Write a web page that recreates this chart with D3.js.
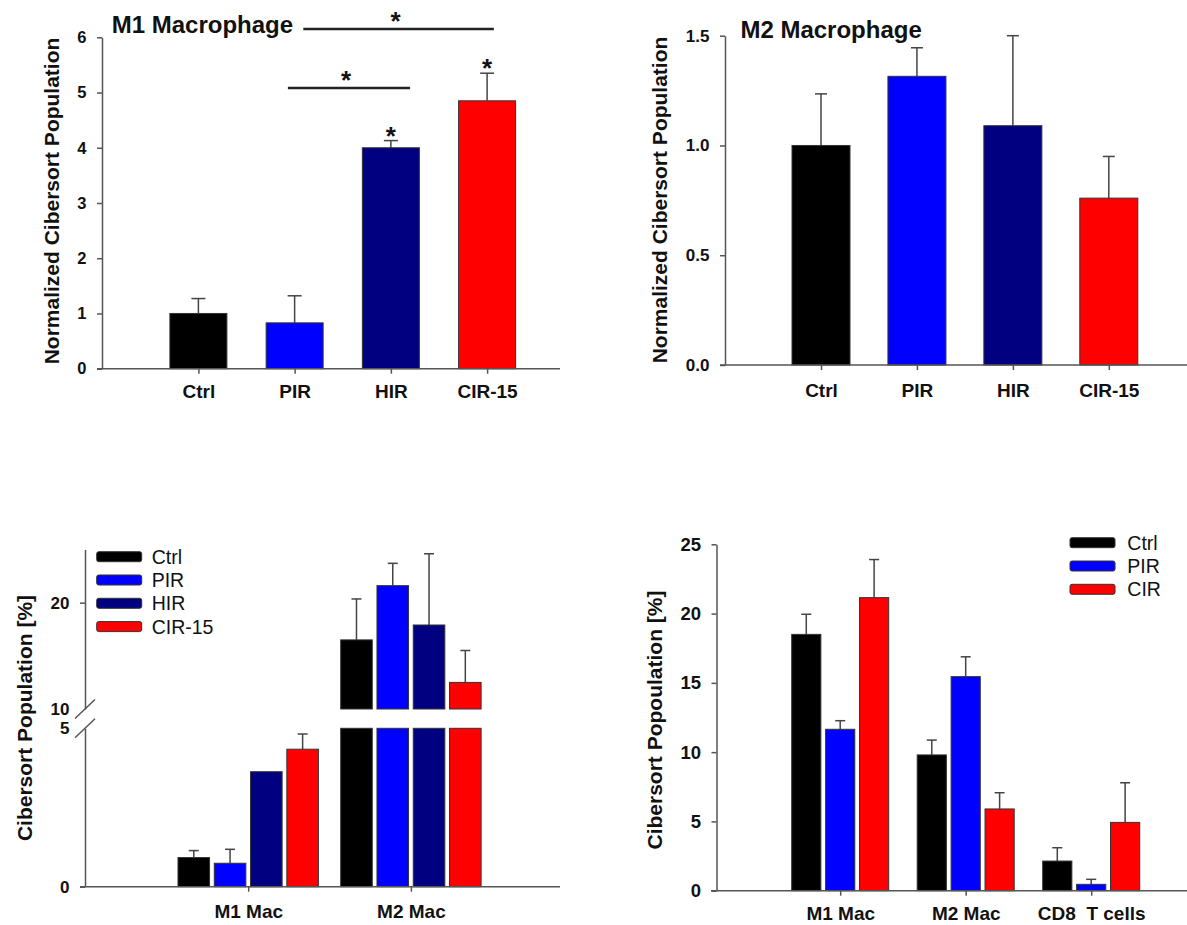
<!DOCTYPE html>
<html><head><meta charset="utf-8">
<script src="https://cdn.jsdelivr.net/npm/d3@7"></script>
<style>
body{margin:0;background:#fff;}
svg{display:block;font-family:"Liberation Sans",Arial,sans-serif;}
</style></head><body>
<svg id="chart" width="1187" height="925"></svg>
<script>
// ---------- DATA ----------
// Panel A : M1 Macrophage (normalized)
const groupsA = ["Ctrl", "PIR", "HIR", "CIR-15"];
const valuesA = [1.0, 0.83, 4.0, 4.85];
const errorsA = [0.27, 0.49, 0.13, 0.50];
const ticksA = [0, 1, 2, 3, 4, 5, 6];
const starsA = ["HIR", "CIR-15"];
// significance brackets: start / end (group index units) and level (y units)
const sigStartA = [1.09, 0.93];
const sigEndA = [3.07, 2.2];
const sigLevelA = [6.15, 5.08];

// Panel B : M2 Macrophage (normalized)
const groupsB = ["Ctrl", "PIR", "HIR", "CIR-15"];
const valuesB = [1.0, 1.315, 1.09, 0.76];
const errorsB = [0.235, 0.13, 0.41, 0.19];
const ticksB = [0.0, 0.5, 1.0, 1.5];

// Panel C : broken axis, M1 / M2 Mac
const categoriesC = ["M1 Mac", "M2 Mac"];
const seriesC = ["Ctrl", "PIR", "HIR", "CIR-15"];
const cCtrl = [0.92, 16.5];
const cPIR = [0.74, 21.6];
const cHIR = [3.63, 17.9];
const cCIR = [4.34, 12.5];
const cCtrlErr = [0.22, 3.85];
const cPIRErr = [0.44, 2.1];
const cHIRErr = [null, 6.7];
const cCIRErr = [0.48, 3.0];
const lowTicksC = [0, 5];
const highTicksC = [10, 20];

// Panel D : Ctrl / PIR / CIR
const categoriesD = ["M1 Mac", "M2 Mac", "CD8  T cells"];
const seriesD = ["Ctrl", "PIR", "CIR"];
const dCtrl = [18.5, 9.8, 2.14];
const dPIR = [11.65, 15.45, 0.46];
const dCIR = [21.15, 5.9, 4.93];
const dCtrlErr = [1.45, 1.07, 0.96];
const dPIRErr = [0.62, 1.43, 0.36];
const dCIRErr = [2.75, 1.17, 2.86];
const ticksD = [0, 5, 10, 15, 20, 25];

// ---------- STYLE ----------
const colors = {"Ctrl": "#000000", "PIR": "#0000ff", "HIR": "#000080", "CIR-15": "#ff0000", "CIR": "#ff0000"};
const axisColor = "#555";
const errColor = "#444";
const textColor = "#111";

const svg = d3.select("#chart");

function styleAxis(g, fs) {
  g.select(".domain").attr("stroke", axisColor).attr("stroke-width", 1.5);
  g.selectAll(".tick line").attr("stroke", axisColor).attr("stroke-width", 1.5);
  g.selectAll(".tick text").attr("fill", textColor).attr("font-weight", "bold")
    .attr("font-size", fs).attr("font-family", "Liberation Sans, Arial, sans-serif");
}

function yAxis(scale, ticks, x, fmt, fs) {
  const g = svg.append("g").attr("transform", `translate(${x},0)`)
    .call(d3.axisLeft(scale).tickValues(ticks).tickSize(5).tickSizeOuter(0).tickPadding(10.5).tickFormat(fmt));
  styleAxis(g, fs);
  return g;
}

function xAxis(scale, y0, x1, x2, fs, labelDy) {
  svg.append("line").attr("x1", x1).attr("x2", x2).attr("y1", y0).attr("y2", y0)
    .attr("stroke", axisColor).attr("stroke-width", 1.5);
  const g = svg.append("g").attr("transform", `translate(0,${y0})`)
    .call(d3.axisBottom(scale).tickSize(5).tickSizeOuter(0));
  g.select(".domain").remove();
  styleAxis(g, fs);
  g.selectAll(".tick text").attr("y", labelDy).attr("dy", 0).style("white-space", "pre");
}

function yLabel(text, cx, cy, fs) {
  svg.append("text").attr("transform", `translate(${cx},${cy}) rotate(-90)`)
    .attr("text-anchor", "middle").attr("dy", "0.35em")
    .attr("font-size", fs).attr("font-weight", "bold").attr("fill", textColor).text(text);
}

function errorBar(cx, yBase, yTop, cap) {
  svg.append("line").attr("x1", cx).attr("x2", cx).attr("y1", yBase).attr("y2", yTop)
    .attr("stroke", errColor).attr("stroke-width", 1.5);
  svg.append("line").attr("x1", cx - cap / 2).attr("x2", cx + cap / 2).attr("y1", yTop).attr("y2", yTop)
    .attr("stroke", errColor).attr("stroke-width", 1.5);
}

// ---------- PANEL A ----------
{
  const x = d3.scalePoint().domain(groupsA).range([198.4, 487.1]);
  const xi = d3.scaleLinear().domain([0, groupsA.length - 1]).range([198.4, 487.1]);
  const y = d3.scaleLinear().domain([0, 6]).range([368.7, 37.3]);
  const bw = 57;
  const data = groupsA.map((g, i) => ({g, v: valuesA[i], e: errorsA[i]}));
  data.forEach(d => errorBar(x(d.g), y(d.v), y(d.v + d.e), 14));
  svg.append("g").selectAll("rect").data(data).join("rect")
    .attr("x", d => x(d.g) - bw / 2).attr("width", bw)
    .attr("y", d => y(d.v)).attr("height", d => y(0) - y(d.v))
    .attr("fill", d => colors[d.g]).attr("stroke", "#333").attr("stroke-width", 1);
  yAxis(y, ticksA, 102, d3.format("d"), 16.5);
  xAxis(x, y(0), 97, 560, 19, 29.5);
  yLabel("Normalized Cibersort Population", 52, 201, 21);
  svg.append("text").attr("x", 111.7).attr("y", 33.3).attr("font-size", 24).attr("font-weight", "bold")
    .attr("fill", textColor).text("M1 Macrophage");
  sigStartA.forEach((s, i) => {
    const x1 = xi(s), x2 = xi(sigEndA[i]), yy = y(sigLevelA[i]);
    svg.append("line").attr("x1", x1).attr("x2", x2).attr("y1", yy).attr("y2", yy)
      .attr("stroke", "#222").attr("stroke-width", 2.5);
    svg.append("text").attr("x", (x1 + x2) / 2 - 3).attr("y", yy + 1).attr("text-anchor", "middle")
      .attr("font-size", 26).attr("font-weight", "bold").attr("fill", textColor).text("*");
  });
  data.filter(d => starsA.includes(d.g)).forEach(d => {
    svg.append("text").attr("x", x(d.g)).attr("y", y(d.v + d.e) + 4).attr("text-anchor", "middle")
      .attr("font-size", 26).attr("font-weight", "bold").attr("fill", textColor).text("*");
  });
}

// ---------- PANEL B ----------
{
  const x = d3.scalePoint().domain(groupsB).range([821, 1108.8]);
  const y = d3.scaleLinear().domain([0, 1.5]).range([365, 35.7]);
  const bw = 58;
  const data = groupsB.map((g, i) => ({g, v: valuesB[i], e: errorsB[i]}));
  data.forEach(d => errorBar(x(d.g), y(d.v), y(d.v + d.e), 12));
  svg.append("g").selectAll("rect").data(data).join("rect")
    .attr("x", d => x(d.g) - bw / 2).attr("width", bw)
    .attr("y", d => y(d.v)).attr("height", d => y(0) - y(d.v))
    .attr("fill", d => colors[d.g]).attr("stroke", "#333").attr("stroke-width", 1);
  yAxis(y, ticksB, 725, d3.format(".1f"), 17);
  xAxis(x, y(0), 720, 1187, 19, 31.5);
  yLabel("Normalized Cibersort Population", 660, 200, 21);
  svg.append("text").attr("x", 740.4).attr("y", 38).attr("font-size", 24).attr("font-weight", "bold")
    .attr("fill", textColor).text("M2 Macrophage");
}

// ---------- PANEL C ----------
{
  const vals = [cCtrl, cPIR, cHIR, cCIR];
  const errs = [cCtrlErr, cPIRErr, cHIRErr, cCIRErr];
  const data = [];
  categoriesC.forEach((c, ci) => seriesC.forEach((s, si) =>
    data.push({c, s, v: vals[si][ci], e: errs[si][ci]})));
  const x0 = d3.scalePoint().domain(categoriesC).range([248.2, 410.9]);
  const x1 = d3.scaleBand().domain(seriesC).range([-70.2, 70.2]).paddingInner(0.13);
  const yLow = d3.scaleLinear().domain([0, 5]).range([886.7, 728.3]);
  const yHigh = d3.scaleLinear().domain([10, 25]).range([709, 549.5]);
  const cx = d => x0(d.c) + x1(d.s) + x1.bandwidth() / 2;
  const yOf = v => v > 10 ? yHigh(v) : yLow(Math.min(v, 5));
  data.filter(d => d.e != null).forEach(d => errorBar(cx(d), yOf(d.v), yOf(d.v + d.e), 10));
  const g = svg.append("g");
  g.selectAll("rect.low").data(data).join("rect").attr("class", "low")
    .attr("x", d => x0(d.c) + x1(d.s)).attr("width", x1.bandwidth())
    .attr("y", d => yLow(Math.min(d.v, 5))).attr("height", d => yLow(0) - yLow(Math.min(d.v, 5)))
    .attr("fill", d => colors[d.s]).attr("stroke", "#333").attr("stroke-width", 1);
  g.selectAll("rect.high").data(data.filter(d => d.v > 10)).join("rect").attr("class", "high")
    .attr("x", d => x0(d.c) + x1(d.s)).attr("width", x1.bandwidth())
    .attr("y", d => yHigh(d.v)).attr("height", d => yHigh(10) - yHigh(d.v))
    .attr("fill", d => colors[d.s]).attr("stroke", "#333").attr("stroke-width", 1);
  const gl = yAxis(yLow, lowTicksC, 85, d3.format("d"), 17);
  gl.selectAll(".tick").filter(d => d === 5).select("line").remove();
  const gh = yAxis(yHigh, highTicksC, 85, d3.format("d"), 17);
  gh.selectAll(".tick").filter(d => d === 10).select("line").remove();
  [yHigh(10), yLow(5)].forEach(yy => {
    svg.append("line").attr("x1", 75).attr("x2", 95).attr("y1", yy + 9.5).attr("y2", yy - 9.5)
      .attr("stroke", axisColor).attr("stroke-width", 1.5);
  });
  xAxis(x0, yLow(0), 80, 560, 19, 31.5);
  yLabel("Cibersort Population [%]", 25, 718, 21);
  const lg = svg.append("g");
  seriesC.forEach((s, i) => {
    const yy = 556.7 + i * 23.3;
    lg.append("rect").attr("x", 96.7).attr("y", yy - 5).attr("width", 45).attr("height", 10).attr("rx", 2)
      .attr("fill", colors[s]).attr("stroke", "#333").attr("stroke-width", 1);
    lg.append("text").attr("x", 151.7).attr("y", yy).attr("dy", "0.36em").attr("font-size", 19.5)
      .attr("fill", textColor).text(s);
  });
}

// ---------- PANEL D ----------
{
  const vals = [dCtrl, dPIR, dCIR];
  const errs = [dCtrlErr, dPIRErr, dCIRErr];
  const data = [];
  categoriesD.forEach((c, ci) => seriesD.forEach((s, si) =>
    data.push({c, s, v: vals[si][ci], e: errs[si][ci]})));
  const x0 = d3.scalePoint().domain(categoriesD).range([840.2, 1091.2]);
  const x1 = d3.scaleBand().domain(seriesD).range([-48.5, 48.5]).paddingInner(0.14);
  const y = d3.scaleLinear().domain([0, 25]).range([890.7, 544.3]);
  const cx = d => x0(d.c) + x1(d.s) + x1.bandwidth() / 2;
  data.forEach(d => errorBar(cx(d), y(d.v), y(d.v + d.e), 10));
  svg.append("g").selectAll("rect").data(data).join("rect")
    .attr("x", d => x0(d.c) + x1(d.s)).attr("width", x1.bandwidth())
    .attr("y", d => y(d.v)).attr("height", d => y(0) - y(d.v))
    .attr("fill", d => colors[d.s]).attr("stroke", "#333").attr("stroke-width", 1);
  yAxis(y, ticksD, 716.5, d3.format("d"), 18.5);
  xAxis(x0, y(0), 711, 1187, 19, 29.5);
  yLabel("Cibersort Popoulation [%]", 654.3, 720, 21);
  const lg = svg.append("g");
  seriesD.forEach((s, i) => {
    const yy = 542.7 + i * 23.3;
    lg.append("rect").attr("x", 1070).attr("y", yy - 5).attr("width", 45).attr("height", 10).attr("rx", 2)
      .attr("fill", colors[s]).attr("stroke", "#333").attr("stroke-width", 1);
    lg.append("text").attr("x", 1127.3).attr("y", yy).attr("dy", "0.36em").attr("font-size", 19.5)
      .attr("fill", textColor).text(s);
  });
}
</script>
</body></html>
